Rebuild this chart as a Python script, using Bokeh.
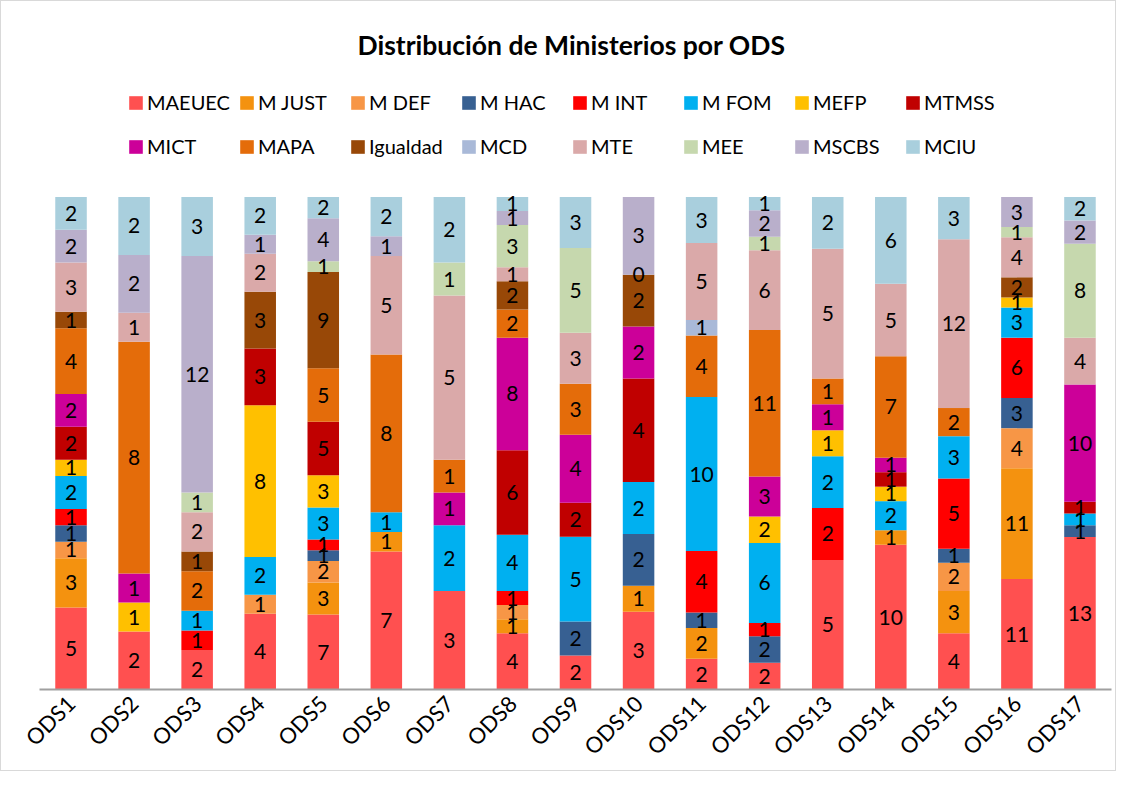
import math
from bokeh.plotting import figure
from bokeh.models import ColumnDataSource, Range1d, FactorRange, Legend, LegendItem, Label
from bokeh.core.properties import value
from bokeh.embed import file_html
from bokeh.resources import INLINE

N = None
ods = [f"ODS{i}" for i in range(1, 18)]

series = ["MAEUEC", "M JUST", "M DEF", "M HAC", "M INT", "M FOM", "MEFP", "MTMSS",
          "MICT", "MAPA", "Igualdad", "MCD", "MTE", "MEE", "MSCBS", "MCIU"]
colors = ["#FF5050", "#F4920F", "#F79646", "#376092", "#FF0000", "#00B0F0", "#FFC000", "#C00000",
          "#CC0099", "#E46C0A", "#984807", "#A9B9D8", "#DAA9A9", "#C6D8AE", "#B9AFCB", "#A9CFDD"]

MAEUEC   = [5, 2, 2, 4, 7, 7, 3, 4, 2, 3, 2, 2, 5, 10, 4, 11, 13]
M_JUST   = [3, N, N, N, 3, 1, N, 1, N, 1, 2, N, N, 1, 3, 11, N]
M_DEF    = [1, N, N, 1, 2, N, N, 1, N, N, N, N, N, N, 2, 4, N]
M_HAC    = [1, N, N, N, 1, N, N, N, 2, 2, 1, 2, N, N, 1, 3, 1]
M_INT    = [1, N, 1, N, 1, N, N, 1, N, N, 4, 1, 2, N, 5, 6, N]
M_FOM    = [2, N, 1, 2, 3, 1, 2, 4, 5, 2, 10, 6, 2, 2, 3, 3, 1]
MEFP     = [1, 1, N, 8, 3, N, N, N, N, N, N, 2, 1, 1, N, 1, N]
MTMSS    = [2, N, N, 3, 5, N, N, 6, 2, 4, N, N, N, 1, N, N, 1]
MICT     = [2, 1, N, N, N, N, 1, 8, 4, 2, N, 3, 1, 1, N, N, 10]
MAPA     = [4, 8, 2, N, 5, 8, 1, 2, 3, N, 4, 11, 1, 7, 2, N, N]
Igualdad = [1, N, 1, 3, 9, N, N, 2, N, 2, N, N, N, N, N, 2, N]
MCD      = [N, N, N, N, N, N, N, N, N, N, 1, N, N, N, N, N, N]
MTE      = [3, 1, 2, 2, N, 5, 5, 1, 3, 0, 5, 6, 5, 5, 12, 4, 4]
MEE      = [N, N, 1, N, 1, N, 1, 3, 5, N, N, 1, N, N, N, 1, 8]
MSCBS    = [2, 2, 12, 1, 4, 1, N, 1, N, 3, N, 2, N, N, N, 3, 2]
MCIU     = [2, 2, 3, 2, 2, 2, 2, 1, 3, N, 3, 1, 2, 6, 3, N, 2]

values = [MAEUEC, M_JUST, M_DEF, M_HAC, M_INT, M_FOM, MEFP, MTMSS,
          MICT, MAPA, Igualdad, MCD, MTE, MEE, MSCBS, MCIU]

totals = [sum((v[i] or 0) for v in values) for i in range(len(ods))]

data = {"ods": ods}
for s, v in zip(series, values):
    data[s] = [(x or 0) / t for x, t in zip(v, totals)]
source = ColumnDataSource(data)

# label positions
lx, ly, lt = [], [], []
for i, o in enumerate(ods):
    cum = 0.0
    for v in values:
        x = v[i]
        if x is None:
            continue
        f = x / totals[i]
        lx.append(o)
        ly.append(cum + f / 2)
        lt.append(str(x))
        cum += f
lsrc = ColumnDataSource(dict(x=lx, y=ly, t=lt))

FONT = "Lato"

p = figure(width=1116, height=771, x_range=FactorRange(*ods, range_padding=0),
           y_range=Range1d(0, 690 / 494), output_backend="svg", toolbar_location=None,
           min_border_left=38, min_border_right=6, min_border_top=0, min_border_bottom=81,
           y_axis_location=None)
p.styles = {"border": "1px solid #D9D9D9"}

renderers = p.vbar_stack(series, x="ods", width=0.5, color=colors, line_color=None, source=source)

p.text(x="x", y="y", text="t", source=lsrc, text_align="center", text_baseline="middle",
       text_font=value(FONT), text_font_size="21px", text_color="#000000")

p.xgrid.visible = False
p.ygrid.visible = False
p.outline_line_color = None
p.xaxis.axis_line_color = "#A0A0A0"
p.xaxis.axis_line_width = 2
p.xaxis.major_tick_line_color = None
p.xaxis.minor_tick_line_color = None
p.xaxis.major_label_orientation = math.pi / 4
p.xaxis.major_label_text_font = FONT
p.xaxis.major_label_text_font_size = "22px"
p.xaxis.major_label_text_color = "#000000"
p.xaxis.major_label_standoff = 4

title = Label(x=532, y=645, x_units="screen", y_units="screen",
              text="Distribución de Ministerios por ODS", text_align="center",
              text_baseline="middle", text_font=FONT, text_font_size="26.5px",
              text_font_style="bold", text_color="#000000")
p.add_layout(title)

def make_legend(items, loc):
    return Legend(items=items, orientation="horizontal", location=loc,
                  background_fill_alpha=0, border_line_color=None, padding=0, margin=0,
                  spacing=6, glyph_width=17, glyph_height=17, label_standoff=3,
                  label_width=85, label_height=17, label_text_font=FONT,
                  label_text_font_size="20px", label_text_color="#000000")

items = [LegendItem(label=s, renderers=[r]) for s, r in zip(series, renderers)]
p.add_layout(make_legend(items[:8], (88, 575)))
p.add_layout(make_legend(items[8:], (88, 531)))

open("out.html", "w").write(file_html(p, INLINE))
